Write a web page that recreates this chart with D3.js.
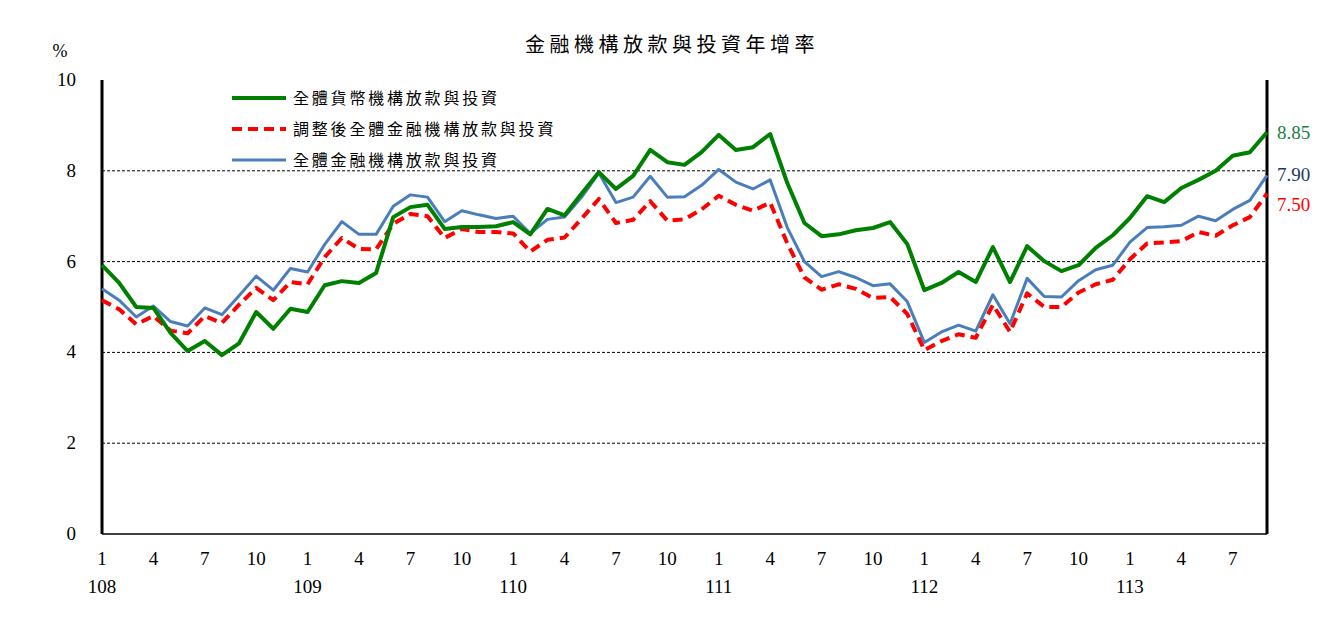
<!DOCTYPE html>
<html><head><meta charset="utf-8">
<script src="https://cdn.jsdelivr.net/npm/d3@7"></script>
<style>body{margin:0;background:#fff}</style></head>
<body><svg id="c" width="1341" height="642"></svg>
<script>
const title = "金融機構放款與投資年增率";
const seriesNames = ["全體貨幣機構放款與投資","調整後全體金融機構放款與投資","全體金融機構放款與投資"];
const monthTicks = [1,4,7,10];
const yearLabels = ["108","109","110","111","112","113"];
const yTicks = [0,2,4,6,8,10];
const green = [5.92,5.53,5.0,4.98,4.43,4.03,4.25,3.94,4.2,4.89,4.52,4.96,4.89,5.48,5.57,5.53,5.75,6.98,7.2,7.25,6.72,6.76,6.76,6.78,6.87,6.6,7.16,7.02,7.5,7.97,7.6,7.89,8.46,8.19,8.13,8.41,8.79,8.46,8.52,8.81,7.73,6.85,6.56,6.6,6.69,6.74,6.87,6.39,5.37,5.53,5.77,5.55,6.32,5.55,6.34,6.01,5.79,5.92,6.3,6.58,6.96,7.44,7.31,7.62,7.8,8.0,8.33,8.41,8.85];
const red = [5.15,4.95,4.62,4.8,4.48,4.42,4.8,4.65,5.05,5.42,5.15,5.55,5.5,6.1,6.52,6.28,6.27,6.83,7.05,7.0,6.52,6.72,6.65,6.65,6.62,6.22,6.48,6.53,6.95,7.38,6.85,6.92,7.33,6.9,6.93,7.15,7.45,7.25,7.12,7.3,6.4,5.65,5.38,5.5,5.4,5.2,5.22,4.85,4.05,4.25,4.4,4.32,5.05,4.45,5.3,5.0,5.0,5.32,5.5,5.6,6.05,6.4,6.42,6.45,6.65,6.57,6.8,6.98,7.5];
const blue = [5.4,5.15,4.78,5.02,4.68,4.58,4.98,4.83,5.25,5.68,5.37,5.85,5.77,6.38,6.88,6.6,6.6,7.22,7.47,7.42,6.88,7.12,7.03,6.95,7.0,6.62,6.93,6.98,7.42,7.95,7.3,7.42,7.88,7.42,7.43,7.68,8.03,7.75,7.6,7.8,6.75,6.0,5.67,5.78,5.65,5.47,5.51,5.12,4.22,4.45,4.6,4.47,5.27,4.63,5.63,5.23,5.22,5.58,5.82,5.92,6.43,6.75,6.77,6.8,7.0,6.9,7.15,7.35,7.9];

const svg = d3.select("#c");
const L=102,R=1267,T=80,B=534;
const x = d3.scaleLinear().domain([0,68]).range([L,R]);
const y = d3.scaleLinear().domain([0,10]).range([B,T]);
const serif = "'Liberation Serif','Times New Roman',serif";
const cjk = "'Noto Sans CJK TC',sans-serif";

svg.append("text").attr("x",525).attr("y",52).attr("font-family",cjk).attr("font-size",20).attr("letter-spacing",4.5).text(title);
svg.append("text").attr("x",60).attr("y",57).attr("text-anchor","middle").attr("font-family",serif).attr("font-size",18).text("%");

svg.append("g").selectAll("line").data(yTicks.filter(d=>d>0&&d<10)).join("line")
 .attr("x1",L).attr("x2",R).attr("y1",d=>y(d)).attr("y2",d=>y(d)).attr("stroke","#000").attr("stroke-width",1).attr("stroke-dasharray","3,2");
svg.append("g").selectAll("text").data(yTicks).join("text").attr("x",76).attr("y",d=>y(d)+6).attr("text-anchor","end")
 .attr("font-family",serif).attr("font-size",19).text(d=>d);
svg.append("line").attr("x1",L).attr("x2",L).attr("y1",T).attr("y2",B).attr("stroke","#000").attr("stroke-width",3);
svg.append("line").attr("x1",R).attr("x2",R).attr("y1",T).attr("y2",B).attr("stroke","#000").attr("stroke-width",3);
svg.append("line").attr("x1",L).attr("x2",R).attr("y1",B).attr("y2",B).attr("stroke","#000").attr("stroke-width",1.5);

const xt=[];
yearLabels.forEach((yl,yi)=>monthTicks.forEach(m=>{const i=yi*12+m-1; if(i<=68) xt.push({i,m});}));
svg.append("g").selectAll("text").data(xt).join("text").attr("x",d=>x(d.i)).attr("y",565).attr("text-anchor","middle")
 .attr("font-family",serif).attr("font-size",19).text(d=>d.m);
svg.append("g").selectAll("text").data(yearLabels).join("text").attr("x",(d,i)=>x(i*12)).attr("y",593).attr("text-anchor","middle")
 .attr("font-family",serif).attr("font-size",19).text(d=>d);

const line = d3.line().x((d,i)=>x(i)).y(d=>y(d));
const cfg=[{d:blue,c:"#4a7ebb",w:3,da:null},{d:red,c:"#ff0000",w:4,da:"10,6"},{d:green,c:"#008000",w:4,da:null}];
cfg.forEach(s=>svg.append("path").datum(s.d).attr("d",line).attr("fill","none").attr("stroke",s.c).attr("stroke-width",s.w).attr("stroke-dasharray",s.da).attr("stroke-linejoin","round"));

const leg=[{n:seriesNames[0],c:"#008000",w:4,da:null,yy:98},{n:seriesNames[1],c:"#ff0000",w:4,da:"10,6",yy:129},{n:seriesNames[2],c:"#4a7ebb",w:3,da:null,yy:160}];
leg.forEach(l=>{
 svg.append("line").attr("x1",232).attr("x2",286).attr("y1",l.yy).attr("y2",l.yy).attr("stroke",l.c).attr("stroke-width",l.w).attr("stroke-dasharray",l.da);
 svg.append("text").attr("x",293).attr("y",l.yy+6).attr("font-family",cjk).attr("font-size",16).attr("letter-spacing",2.8).text(l.n);
});

[{v:green[68],c:"#1a8040",yy:139},{v:blue[68],c:"#1f3864",yy:181},{v:red[68],c:"#ff0000",yy:211}].forEach(e=>
 svg.append("text").attr("x",1277).attr("y",e.yy).attr("font-family",serif).attr("font-size",19).attr("fill",e.c).text(e.v.toFixed(2)));
</script></body></html>
